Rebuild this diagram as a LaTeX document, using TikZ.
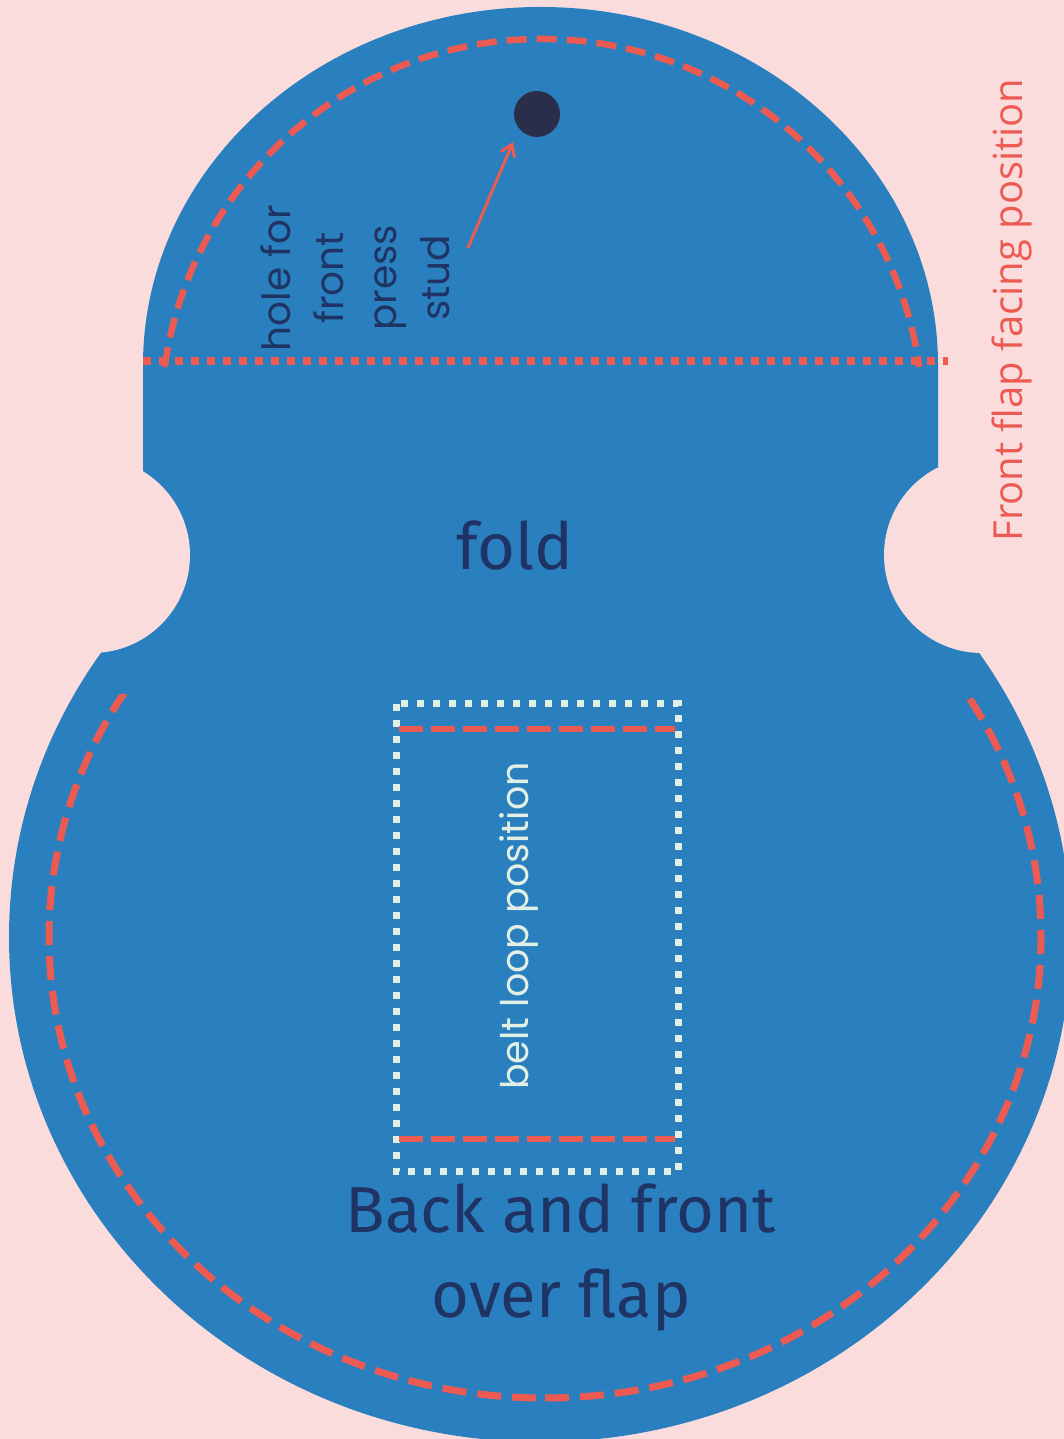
\documentclass[tikz,border=0pt]{standalone}
\usepackage{fontspec}
\usetikzlibrary{arrows.meta}
\newfontfamily\popfont{Poppins}
\newfontfamily\firafont{Fira Sans}
\newfontfamily\opensfont{Open Sans}
\definecolor{bgpink}{HTML}{FBDCDD}
\definecolor{bodyblue}{HTML}{2A80BE}
\definecolor{stitchred}{HTML}{EC5A52}
\definecolor{navytext}{HTML}{1F3365}
\definecolor{holedark}{HTML}{2B2E4B}
\definecolor{mintcol}{HTML}{E2EFE4}
\begin{document}
\begin{tikzpicture}[x=1pt,y=1pt,
  stitchtop/.style={draw=stitchred, line width=6.5pt, dash pattern=on 20pt off 10pt},
  stitchbig/.style={draw=stitchred, line width=7pt, dash pattern=on 24pt off 11pt},
  reddotted/.style={draw=stitchred, line width=7.5pt, dash pattern=on 8pt off 8pt},
  mintdotted/.style={draw=mintcol, line width=7pt, dash pattern=on 7pt off 9pt},
  beltstitch/.style={draw=stitchred, line width=6pt, dash pattern=on 24pt off 8pt},
  pointer/.style={draw=stitchred, line width=3pt, -{Straight Barb[length=11pt,width=15pt,line width=3pt]}},
  navylabel/.style={text=navytext, font=\popfont\fontsize{39}{47}\selectfont, rotate=90, anchor=base, inner sep=0pt},
  bigtitle/.style={text=navytext, font=\firafont\fontsize{65}{78}\selectfont, anchor=base, inner sep=0pt}
]
\useasboundingbox (0,0) rectangle (1064,1439);
\fill[bgpink] (0,0) rectangle (1064,1439);
% lower big ellipse
\fill[bodyblue] (540,502) ellipse [x radius=531, y radius=505];
\draw[stitchbig] (545,41) arc[start angle=270, end angle=630, x radius=496, y radius=461];
% upper body
\fill[bodyblue] (143,1074) arc[start angle=180, end angle=0, x radius=397.5, y radius=358]
  -- (938,972) -- (972,972) -- (972,745) -- (110,745) -- (110,967) -- (143,967) -- cycle;
% notches
\fill[bgpink] (92,884) circle[radius=98];
\fill[bgpink] (982,884) circle[radius=98];
% top stitching
\draw[stitchtop] (542,1019) ++(172:381) arc[start angle=172, end angle=8, radius=381];
\draw[reddotted] (143,1078) -- (948,1078);
% press stud hole
\node[circle, fill=holedark, minimum size=46pt, inner sep=0pt] (hole) at (537,1325) {};
\coordinate (arrowtail) at (468,1191);
\coordinate (arrowtip) at (513,1297);
\draw[pointer] (arrowtail) -- (arrowtip);
% labels
\node[navylabel] (lhole) at (290,1161) {hole for};
\node[navylabel] (lfront) at (343,1161) {front};
\node[navylabel] (lpress) at (396,1161) {press};
\node[navylabel] (lstud) at (449,1161) {stud};
\node[bigtitle] (lfold) at (515,869) {fold};
% belt loop
\draw[mintdotted] (396,735) rectangle (678,267);
\draw[beltstitch] (399,710) -- (675,710);
\draw[beltstitch] (399,300) -- (675,300);
\node[text=mintcol, font=\popfont\fontsize{38}{46}\selectfont, rotate=90, anchor=base, inner sep=0pt] (lbelt) at (528,513) {belt loop position};
\node[bigtitle] (lback) at (561,206) {Back and front};
\node[bigtitle] (lover) at (561,121) {over flap};
\node[text=stitchred, font=\opensfont\fontsize{40}{48}\selectfont, rotate=90, anchor=base, inner sep=0pt] (lfacing) at (1022,1129) {Front flap facing position};
\end{tikzpicture}
\end{document}
